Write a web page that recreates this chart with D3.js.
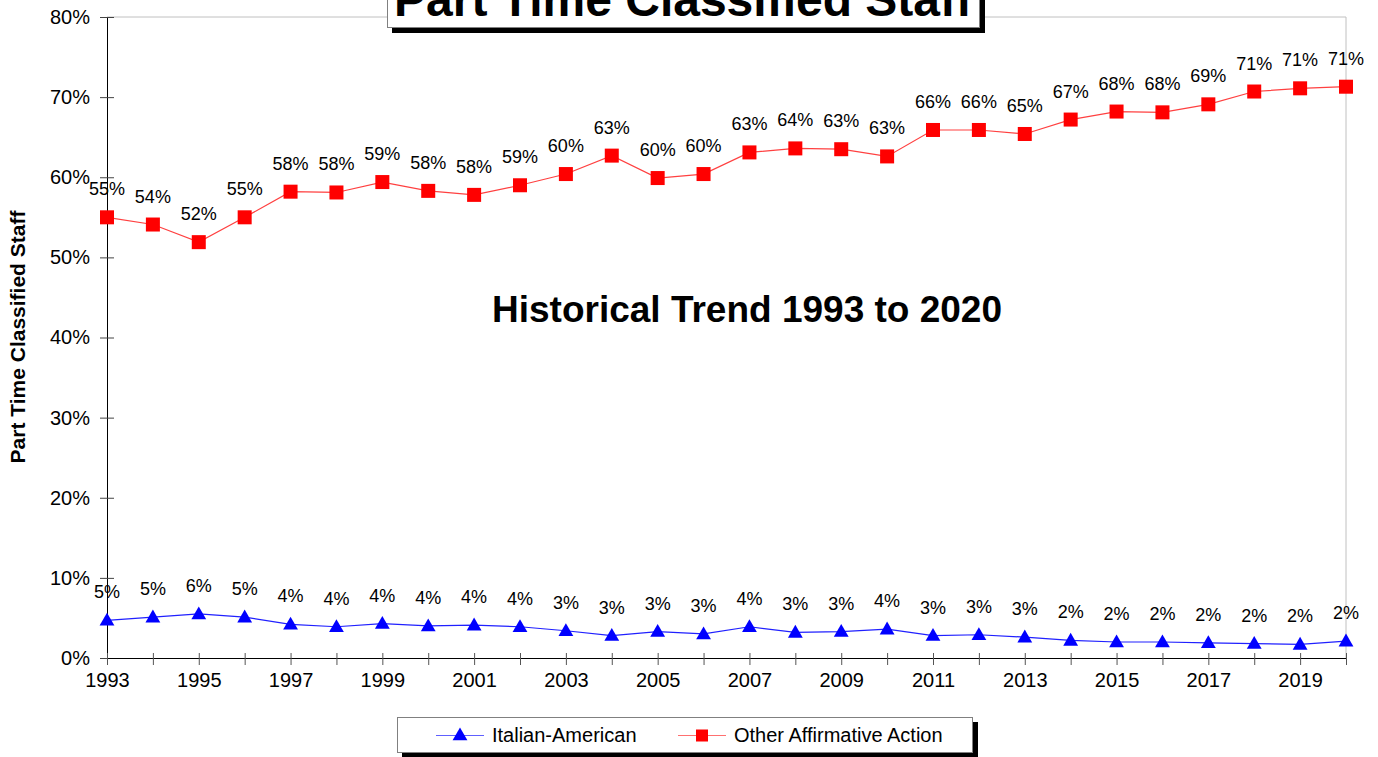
<!DOCTYPE html>
<html>
<head>
<meta charset="utf-8">
<script src="https://cdn.jsdelivr.net/npm/d3@7"></script>
<style>
  html, body { margin: 0; padding: 0; background: #fff; }
  svg { display: block; font-family: "Liberation Sans", Arial, sans-serif; }
</style>
</head>
<body>
<svg id="chart" width="1378" height="757"></svg>
<script>
const years = [1993,1994,1995,1996,1997,1998,1999,2000,2001,2002,2003,2004,2005,2006,2007,2008,2009,2010,2011,2012,2013,2014,2015,2016,2017,2018,2019,2020];
const italianAmerican = [4.7,5.1,5.5,5.1,4.2,3.9,4.3,4.0,4.1,3.9,3.4,2.8,3.3,3.0,3.9,3.2,3.3,3.6,2.8,2.9,2.6,2.2,2.0,2.0,1.9,1.8,1.7,2.1];
const otherAffirmative = [55.0,54.1,51.9,55.0,58.2,58.1,59.4,58.3,57.8,59.0,60.4,62.7,59.9,60.4,63.1,63.6,63.5,62.6,65.9,65.9,65.4,67.2,68.2,68.1,69.1,70.7,71.1,71.3];
const italianLabels = ["5%","5%","6%","5%","4%","4%","4%","4%","4%","4%","3%","3%","3%","3%","4%","3%","3%","4%","3%","3%","3%","2%","2%","2%","2%","2%","2%","2%"];
const otherLabels = ["55%","54%","52%","55%","58%","58%","59%","58%","58%","59%","60%","63%","60%","60%","63%","64%","63%","63%","66%","66%","65%","67%","68%","68%","69%","71%","71%","71%"];
const yTicks = [0,10,20,30,40,50,60,70,80];
const xTickLabels = [1993,1995,1997,1999,2001,2003,2005,2007,2009,2011,2013,2015,2017,2019];
const seriesNames = ["Italian-American","Other Affirmative Action"];
const titleText = "Part Time Classified Staff";
const subtitleText = "Historical Trend 1993 to 2020";
const yTitle = "Part Time Classified Staff";

const svg = d3.select("#chart");
const mLeft = 107, mRight = 1346, mTop = 17, mBottom = 658;

const x = d3.scaleLinear().domain([1993, 2020]).range([mLeft, mRight]);
const y = d3.scaleLinear().domain([0, 80]).range([mBottom, mTop]);

// plot border (light gray top/right)
svg.append("path")
  .attr("d", `M${mLeft},${mTop}H${mRight}V${mBottom}`)
  .attr("fill", "none").attr("stroke", "#c0c0c0").attr("stroke-width", 1);

// Y axis
const yAxis = d3.axisLeft(y).tickValues(yTicks).tickFormat(d => d + "%").tickSizeInner(7).tickSizeOuter(0).tickPadding(10);
const gy = svg.append("g").attr("transform", `translate(${mLeft},0)`).call(yAxis);
gy.select(".domain").attr("stroke", "#000");
gy.selectAll(".tick line").attr("stroke", "#444").attr("x2", 7).attr("x1", -7);
gy.selectAll(".tick text").attr("font-size", 20).attr("fill", "#000").attr("font-family", "Liberation Sans, Arial, sans-serif").attr("x", -17);

// X axis
const xAxis = d3.axisBottom(x).tickValues(years).tickFormat(d => xTickLabels.includes(d) ? d : "").tickSizeInner(7).tickSizeOuter(0).tickPadding(8);
const gx = svg.append("g").attr("transform", `translate(0,${mBottom})`).call(xAxis);
gx.select(".domain").attr("stroke", "#000");
gx.selectAll(".tick line").attr("stroke", "#555").attr("y1", -5).attr("y2", 7);
gx.selectAll(".tick text").attr("font-size", 20).attr("fill", "#000").attr("font-family", "Liberation Sans, Arial, sans-serif");

// Y title
svg.append("text")
  .attr("transform", `translate(25,337) rotate(-90)`)
  .attr("text-anchor", "middle")
  .attr("font-weight", "bold").attr("font-size", 21)
  .text(yTitle);

// Lines
const line = (vals) => d3.line().x((d, i) => x(years[i])).y(d => y(d))(vals);
svg.append("path").attr("d", line(otherAffirmative)).attr("fill", "none").attr("stroke", "#ff4040").attr("stroke-width", 1.2);
svg.append("path").attr("d", line(italianAmerican)).attr("fill", "none").attr("stroke", "#2020ff").attr("stroke-width", 1.2);

const tri = d3.symbol().type(d3.symbolTriangle).size(95);

// markers
svg.append("g").selectAll("rect").data(otherAffirmative).join("rect")
  .attr("x", (d, i) => x(years[i]) - 7).attr("y", d => y(d) - 7)
  .attr("width", 14).attr("height", 14).attr("fill", "#ff0000");
svg.append("g").selectAll("path").data(italianAmerican).join("path")
  .attr("d", tri)
  .attr("transform", (d, i) => `translate(${x(years[i])},${y(d) + 1})`)
  .attr("fill", "#0000ff");

// data labels
svg.append("g").selectAll("text").data(otherAffirmative).join("text")
  .attr("x", (d, i) => x(years[i])).attr("y", d => y(d) - 22)
  .attr("text-anchor", "middle").attr("font-size", 18).attr("fill", "#000")
  .text((d, i) => otherLabels[i]);
svg.append("g").selectAll("text").data(italianAmerican).join("text")
  .attr("x", (d, i) => x(years[i])).attr("y", d => y(d) - 22)
  .attr("text-anchor", "middle").attr("font-size", 18).attr("fill", "#000")
  .text((d, i) => italianLabels[i]);

// subtitle
svg.append("text").attr("x", 747).attr("y", 322).attr("text-anchor", "middle")
  .attr("font-weight", "bold").attr("font-size", 37).text(subtitleText);

// title box
svg.append("rect").attr("x", 392).attr("y", -20).attr("width", 593).attr("height", 53).attr("fill", "#000");
svg.append("rect").attr("x", 387.5).attr("y", -20).attr("width", 592).attr("height", 47.5).attr("fill", "#fff").attr("stroke", "#808080").attr("stroke-width", 1);
svg.append("text").attr("x", 683).attr("y", 16).attr("text-anchor", "middle")
  .attr("font-weight", "bold").attr("font-size", 48).text(titleText);

// legend
const lg = svg.append("g");
lg.append("rect").attr("x", 402).attr("y", 722).attr("width", 576).attr("height", 36).attr("fill", "#000");
lg.append("rect").attr("x", 397.5).attr("y", 717.5).attr("width", 575).attr("height", 35).attr("fill", "#fff").attr("stroke", "#808080");
const items = [
  {name: seriesNames[0], x0: 436, color: "#6060ff", marker: "tri", fill: "#0000ff"},
  {name: seriesNames[1], x0: 678, color: "#ff7070", marker: "sq", fill: "#ff0000"}
];
items.forEach(it => {
  lg.append("line").attr("x1", it.x0).attr("x2", it.x0 + 48).attr("y1", 735.5).attr("y2", 735.5).attr("stroke", it.color).attr("stroke-width", 1.2);
  if (it.marker === "tri") {
    lg.append("path").attr("d", tri).attr("transform", `translate(${it.x0 + 24},736)`).attr("fill", it.fill);
  } else {
    lg.append("rect").attr("x", it.x0 + 24 - 6).attr("y", 729.5).attr("width", 12).attr("height", 12).attr("fill", it.fill);
  }
  lg.append("text").attr("x", it.x0 + 56).attr("y", 742).attr("font-size", 20).attr("fill", "#000").text(it.name);
});
</script>
</body>
</html>
